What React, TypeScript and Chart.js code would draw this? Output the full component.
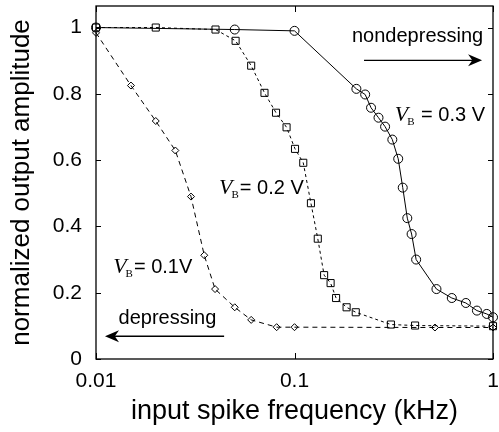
import React, { useEffect, useRef } from "react";
import { Chart, registerables } from "chart.js";

Chart.register(...registerables);

// V_B = 0.3 V (circles, solid)
const freq03 = [0.01, 0.05, 0.1, 0.205, 0.227, 0.243, 0.265, 0.286, 0.311, 0.333, 0.351, 0.37, 0.389, 0.41, 0.519, 0.62, 0.73, 0.83, 0.93, 1.0];
const amp03 = [1.0, 0.994, 0.99, 0.815, 0.798, 0.758, 0.728, 0.701, 0.662, 0.604, 0.517, 0.425, 0.377, 0.3, 0.211, 0.184, 0.169, 0.146, 0.136, 0.126];

// V_B = 0.2 V (squares, dashed)
const freq02 = [0.01, 0.02, 0.04, 0.0505, 0.0605, 0.0706, 0.0807, 0.0912, 0.1006, 0.1107, 0.121, 0.131, 0.141, 0.152, 0.162, 0.183, 0.2035, 0.306, 0.405, 1.0];
const amp02 = [1.0, 1.0, 0.994, 0.96, 0.885, 0.803, 0.743, 0.699, 0.634, 0.592, 0.47, 0.363, 0.253, 0.229, 0.184, 0.156, 0.141, 0.104, 0.101, 0.099];

// V_B = 0.1 V (diamonds, dashed)
const freq01 = [0.01, 0.015, 0.02, 0.0251, 0.0301, 0.0351, 0.0398, 0.05, 0.0605, 0.0813, 0.1, 0.51, 1.0];
const amp01 = [0.984, 0.825, 0.718, 0.629, 0.49, 0.313, 0.211, 0.156, 0.118, 0.096, 0.096, 0.095, 0.095];

const xTickValues = [0.01, 0.1, 1];
const xTickLabels = ["0.01", "0.1", "1"];
const yTickValues = [0, 0.2, 0.4, 0.6, 0.8, 1];
const yTickLabels = ["0", "0.2", "0.4", "0.6", "0.8", "1"];

const xTitle = "input spike frequency (kHz)";
const yTitle = "normalized output amplitude";

const SANS = "'Liberation Sans', Arial, Helvetica, sans-serif";
const SERIF = "'Liberation Serif', 'Times New Roman', serif";

const toPoints = (xs: number[], ys: number[]) => xs.map((x, i) => ({ x, y: ys[i] }));

const zeroPad = (s: any) => {
  s.paddingTop = 0;
  s.paddingBottom = 0;
  s.paddingLeft = 0;
  s.paddingRight = 0;
};

const decorPlugin = {
  id: "decor",
  afterDraw(chart: any) {
    const { ctx, chartArea: a, scales } = chart;
    const xs = scales.x;
    const ys = scales.y;
    ctx.save();
    ctx.strokeStyle = "#000";
    ctx.fillStyle = "#000";
    // frame
    ctx.lineWidth = 1.3;
    ctx.strokeRect(a.left, a.top, a.right - a.left, a.bottom - a.top);
    // inward ticks
    ctx.lineWidth = 1;
    ctx.beginPath();
    yTickValues.forEach((v) => {
      const py = Math.round(ys.getPixelForValue(v)) + 0.5;
      ctx.moveTo(a.left, py);
      ctx.lineTo(a.left + 5, py);
      ctx.moveTo(a.right, py);
      ctx.lineTo(a.right - 5, py);
    });
    xTickValues.forEach((v) => {
      const px = Math.round(xs.getPixelForValue(v)) + 0.5;
      ctx.moveTo(px, a.bottom);
      ctx.lineTo(px, a.bottom - 6);
      ctx.moveTo(px, a.top);
      ctx.lineTo(px, a.top + 6);
    });
    ctx.stroke();

    // arrows
    const arrow = (x0: number, x1: number, yv: number) => {
      const p0 = xs.getPixelForValue(x0);
      const p1 = xs.getPixelForValue(x1);
      const py = ys.getPixelForValue(yv);
      const dir = Math.sign(p1 - p0);
      const hl = 14;
      ctx.lineWidth = 1.3;
      ctx.beginPath();
      ctx.moveTo(p0, py);
      ctx.lineTo(p1 - dir * hl * 0.6, py);
      ctx.stroke();
      ctx.beginPath();
      ctx.moveTo(p1, py);
      ctx.lineTo(p1 - dir * hl, py - 6);
      ctx.lineTo(p1 - dir * hl * 0.7, py);
      ctx.lineTo(p1 - dir * hl, py + 6);
      ctx.closePath();
      ctx.fill();
    };
    arrow(0.224, 0.881, 0.901);
    arrow(0.0442, 0.0111, 0.0687);

    ctx.textBaseline = "middle";
    ctx.textAlign = "center";
    ctx.font = `20px ${SANS}`;
    ctx.fillText("nondepressing", xs.getPixelForValue(0.417), ys.getPixelForValue(0.973));
    ctx.fillText("depressing", xs.getPixelForValue(0.0229), ys.getPixelForValue(0.122));

    // V_B labels
    const vb = (xv: number, yv: number, rest: string) => {
      let px = xs.getPixelForValue(xv);
      const py = ys.getPixelForValue(yv);
      ctx.textAlign = "left";
      ctx.textBaseline = "alphabetic";
      const base = py + 7;
      ctx.font = `italic 22px ${SERIF}`;
      ctx.fillText("V", px, base);
      px += ctx.measureText("V").width - 1;
      ctx.font = `11px ${SERIF}`;
      ctx.fillText("B", px, base + 4);
      px += ctx.measureText("B").width + 1;
      ctx.font = `20px ${SANS}`;
      ctx.fillText(rest, px, base);
    };
    vb(0.32, 0.74, " = 0.3 V");
    vb(0.0417, 0.519, "= 0.2 V");
    vb(0.0122, 0.281, "= 0.1V");
    ctx.restore();
  },
};

export default function App() {
  const canvasRef = useRef<HTMLCanvasElement | null>(null);

  useEffect(() => {
    document.body.style.margin = "0";
    const canvas = canvasRef.current;
    if (!canvas) return;
    const chart = new Chart(canvas, {
      type: "line",
      data: {
        datasets: [
          {
            label: "V_B = 0.3 V",
            data: toPoints(freq03, amp03),
            borderColor: "#000",
            backgroundColor: "rgba(0,0,0,0)",
            borderWidth: 1,
            pointStyle: "circle",
            pointRadius: 4.5,
            pointBorderWidth: 1,
            pointBorderColor: "#000",
            pointBackgroundColor: "rgba(0,0,0,0)",
            tension: 0,
            clip: false as any,
          },
          {
            label: "V_B = 0.2 V",
            data: toPoints(freq02, amp02),
            borderColor: "#000",
            backgroundColor: "rgba(0,0,0,0)",
            borderWidth: 1,
            borderDash: [3, 3],
            pointStyle: "rect",
            pointRadius: 5,
            pointBorderWidth: 1,
            pointBorderColor: "#000",
            pointBackgroundColor: "rgba(0,0,0,0)",
            tension: 0,
            clip: false as any,
          },
          {
            label: "V_B = 0.1 V",
            data: toPoints(freq01, amp01),
            borderColor: "#000",
            backgroundColor: "rgba(0,0,0,0)",
            borderWidth: 1,
            borderDash: [5, 4],
            pointStyle: "rectRot",
            pointRadius: 3.5,
            pointBorderWidth: 1,
            pointBorderColor: "#000",
            pointBackgroundColor: "rgba(0,0,0,0)",
            tension: 0,
            clip: false as any,
          },
        ],
      },
      options: {
        responsive: false,
        animation: false,
        layout: { padding: { top: 2, right: 2, bottom: 0, left: 0 } },
        plugins: { legend: { display: false }, tooltip: { enabled: false } },
        scales: {
          x: {
            type: "logarithmic",
            min: 0.01,
            max: 1,
            grid: { display: false, drawTicks: false },
            border: { display: false },
            afterBuildTicks: (s: any) => {
              s.ticks = xTickValues.map((v) => ({ value: v }));
            },
            afterFit: (s: any) => {
              s.height = 73;
              zeroPad(s);
            },
            ticks: {
              autoSkip: false,
              maxRotation: 0,
              padding: 10,
              color: "#000",
              font: { family: SANS, size: 21 },
              callback: (v: any) => {
                const i = xTickValues.findIndex((t) => Math.abs(t - Number(v)) < 1e-9);
                return i >= 0 ? xTickLabels[i] : "";
              },
            },
            title: {
              display: true,
              text: xTitle,
              color: "#000",
              font: { family: SANS, size: 27 },
              padding: { top: 0, bottom: 4 },
            },
          },
          y: {
            type: "linear",
            min: 0,
            max: 1.065,
            grid: { display: false, drawTicks: false },
            border: { display: false },
            afterBuildTicks: (s: any) => {
              s.ticks = yTickValues.map((v) => ({ value: v }));
            },
            afterFit: (s: any) => {
              s.width = 96;
              zeroPad(s);
            },
            ticks: {
              padding: 14,
              color: "#000",
              font: { family: SANS, size: 21 },
              callback: (v: any) => {
                const i = yTickValues.findIndex((t) => Math.abs(t - Number(v)) < 1e-9);
                return i >= 0 ? yTickLabels[i] : "";
              },
            },
            title: {
              display: true,
              text: yTitle,
              color: "#000",
              font: { family: SANS, size: 26 },
              padding: { top: 6, bottom: 0 },
            },
          },
        },
      },
      plugins: [decorPlugin],
    });
    return () => chart.destroy();
  }, []);

  return (
    <div style={{ width: 499, height: 432 }}>
      <canvas ref={canvasRef} width={499} height={432} />
    </div>
  );
}
